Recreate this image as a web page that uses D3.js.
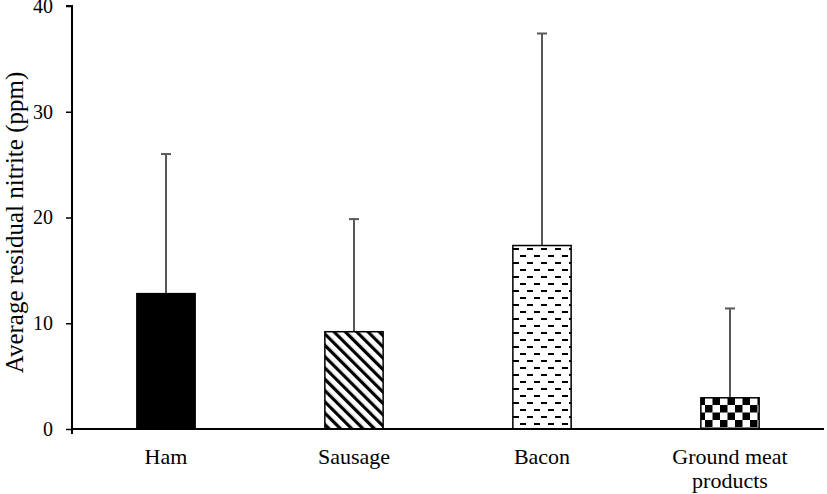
<!DOCTYPE html>
<html><head><meta charset="utf-8">
<script src="https://cdn.jsdelivr.net/npm/d3@7"></script>
<style>body{margin:0;background:#fff}svg{display:block}text{font-family:"Liberation Serif","Times New Roman",serif;fill:#000}</style>
</head><body>
<svg id="c" width="827" height="494"></svg>
<script>
const categories = ["Ham", "Sausage", "Bacon", "Ground meat products"];
const categoryLines = [["Ham"], ["Sausage"], ["Bacon"], ["Ground meat", "products"]];
const means = [12.8, 9.2, 17.35, 2.95];
const errTops = [26.0, 19.85, 37.4, 11.4];
const yTicks = [0, 10, 20, 30, 40];
const patterns = ["solid", "diag", "dash", "check"];

const svg = d3.select("#c");
const m = {l: 72, r: 3, t: 6, b: 65};
const W = 827, H = 494;
const x = d3.scaleBand().domain(categories).range([m.l, W - m.r]).padding(0);
const y = d3.scaleLinear().domain([0, 40]).range([H - m.b, m.t]);
const barW = x.bandwidth() * 0.31;

const defs = svg.append("defs");
// diagonal stripes (top-left to bottom-right)
const pd = defs.append("pattern").attr("id", "diag").attr("patternUnits", "userSpaceOnUse")
  .attr("width", 8).attr("height", 8).attr("patternTransform", "rotate(-45)");
pd.append("rect").attr("width", 8).attr("height", 8).attr("fill", "#fff");
pd.append("rect").attr("x", 0).attr("width", 3.2).attr("height", 8).attr("fill", "#000");
// dashed horizontal
const ph = defs.append("pattern").attr("id", "dash").attr("patternUnits", "userSpaceOnUse")
  .attr("width", 14).attr("height", 14);
ph.append("rect").attr("width", 14).attr("height", 14).attr("fill", "#fff");
ph.append("rect").attr("x", 2).attr("y", 3).attr("width", 6).attr("height", 2).attr("fill", "#000");
ph.append("rect").attr("x", 9).attr("y", 10).attr("width", 6).attr("height", 2).attr("fill", "#000");
ph.append("rect").attr("x", -5).attr("y", 10).attr("width", 6).attr("height", 2).attr("fill", "#000");
// checkerboard
const pc = defs.append("pattern").attr("id", "check").attr("patternUnits", "userSpaceOnUse")
  .attr("width", 15).attr("height", 15);
pc.append("rect").attr("width", 15).attr("height", 15).attr("fill", "#fff");
pc.append("rect").attr("width", 7.5).attr("height", 7.5).attr("fill", "#000");
pc.append("rect").attr("x", 7.5).attr("y", 7.5).attr("width", 7.5).attr("height", 7.5).attr("fill", "#000");

const g = svg.append("g");
categories.forEach((c, i) => {
  const cx = x(c) + x.bandwidth() / 2;
  g.append("line").attr("x1", cx).attr("x2", cx).attr("y1", y(means[i])).attr("y2", y(errTops[i]))
    .attr("stroke", "#595959").attr("stroke-width", 2);
  g.append("line").attr("x1", cx - 5).attr("x2", cx + 5).attr("y1", y(errTops[i])).attr("y2", y(errTops[i]))
    .attr("stroke", "#595959").attr("stroke-width", 2);
  g.append("rect").attr("x", cx - barW / 2).attr("y", y(means[i]))
    .attr("width", barW).attr("height", y(0) - y(means[i]))
    .attr("fill", patterns[i] === "solid" ? "#000" : `url(#${patterns[i]})`)
    .attr("stroke", "#000").attr("stroke-width", 1.5);
});

// y axis
const ya = svg.append("g").attr("transform", `translate(${m.l},0)`)
  .call(d3.axisLeft(y).tickValues(yTicks).tickSize(6).tickPadding(13));
ya.select(".domain").attr("stroke", "#000").attr("stroke-width", 2).attr("d", `M-6,${y(40)}H0V${y(0)+5}`);
ya.selectAll(".tick line").attr("stroke", "#000").attr("stroke-width", 1.5);
ya.selectAll(".tick text").attr("font-size", 20).attr("font-family", "Liberation Serif");

// x axis line
svg.append("line").attr("x1", m.l).attr("x2", W - m.r).attr("y1", y(0)).attr("y2", y(0))
  .attr("stroke", "#000").attr("stroke-width", 2);

// category labels
categories.forEach((c, i) => {
  const cx = x(c) + x.bandwidth() / 2;
  const t = svg.append("text").attr("x", cx).attr("y", 464).attr("text-anchor", "middle").attr("font-size", 22);
  categoryLines[i].forEach((ln, j) => t.append("tspan").attr("x", cx).attr("dy", j === 0 ? 0 : 24).text(ln));
});

// y title
svg.append("text").attr("transform", `translate(23,${(70 + 375) / 2}) rotate(-90)`)
  .attr("text-anchor", "middle").attr("font-size", 25).text("Average residual nitrite (ppm)");
</script>
</body></html>
